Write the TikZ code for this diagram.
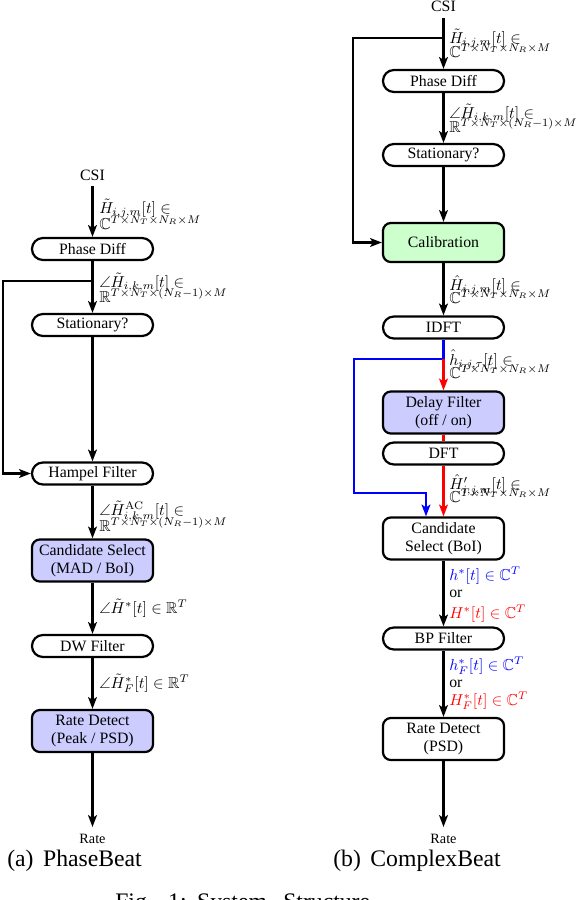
\documentclass[tikz,border=0pt]{standalone}
\usepackage[no-math]{fontspec}
\setmainfont{Liberation Serif}
\usepackage{amssymb}
\usetikzlibrary{arrows.meta}
\definecolor{lav}{RGB}{204,204,255}
\definecolor{mint}{RGB}{204,255,204}
\begin{document}
\begin{tikzpicture}[x=0.6329pt,y=-0.6329pt,
  box/.style={draw,line width=1.4pt,minimum width=76.6pt,inner sep=0pt,
    font=\fontsize{10}{11.2}\selectfont,align=center},
  pill/.style={box,minimum height=13.9pt,rounded corners=6.9pt},
  tall/.style={box,minimum height=26.6pt,rounded corners=5pt},
  arr/.style={line width=1.4pt,-{Stealth[length=7.5pt,width=5.6pt,inset=1.8pt]}},
  ln/.style={line width=1.4pt},
  lbl/.style={anchor=base west,inner sep=0pt,font=\fontsize{10}{12}\selectfont},
  io/.style={anchor=base,inner sep=0pt,font=\fontsize{10}{12}\selectfont},
  outl/.style={anchor=base,inner sep=0pt,font=\fontsize{9}{11}\selectfont},
  capt/.style={anchor=base west,inner sep=0pt,font=\fontsize{15}{18}\selectfont}]
\useasboundingbox (0,0) rectangle (578,900);

% ---------------- left: PhaseBeat ----------------
\node[io] (csiL) at (92.5,180) {CSI};
\node[pill] (pdL) at (92.5,249) {Phase Diff};
\node[pill] (stL) at (92.5,325) {Stationary?};
\node[pill] (hfL) at (92.5,473.5) {Hampel Filter};
\node[tall,fill=lav] (csL) at (92.5,560.5) {Candidate Select\\(MAD / BoI)};
\node[pill] (dwL) at (92.5,646) {DW Filter};
\node[tall,fill=lav] (rdL) at (92.5,731) {Rate Detect\\(Peak / PSD)};
\node[outl] (rateL) at (92.5,843) {Rate};

\coordinate (brL) at (92.5,281);
\coordinate (lpL) at (3,281);
\coordinate (endL) at (92.5,827);
\draw[arr] ([yshift=-3.2pt]csiL.south) -- (pdL.north);
\draw[arr] (pdL) -- (stL);
\draw[arr] (brL) -- (lpL) |- (hfL.west);
\draw[arr] (stL) -- (hfL);
\draw[arr] (hfL) -- (csL);
\draw[arr] (csL) -- (dwL);
\draw[arr] (dwL) -- (rdL);
\draw[arr] (rdL.south) -- (endL);

\node[lbl] (l1a) at (99,213) {$\tilde{H}_{i,j,m}[t] \in$};
\node[lbl] (l1b) at (99,229) {$\mathbb{C}^{T\times N_T\times N_R\times M}$};
\node[lbl] (l2a) at (99,287) {$\angle\tilde{H}_{i,k,m}[t] \in$};
\node[lbl] (l2b) at (99,302) {$\mathbb{R}^{T\times N_T\times (N_R-1)\times M}$};
\node[lbl] (l3a) at (99,515) {$\angle\tilde{H}^{\mathrm{AC}}_{i,k,m}[t] \in$};
\node[lbl] (l3b) at (99,531) {$\mathbb{R}^{T\times N_T\times (N_R-1)\times M}$};
\node[lbl] (l4) at (99,613) {$\angle\tilde{H}^{*}[t] \in \mathbb{R}^{T}$};
\node[lbl] (l5) at (99,688) {$\angle\tilde{H}^{*}_{F}[t] \in \mathbb{R}^{T}$};

% ---------------- right: ComplexBeat ----------------
\node[io] (csiR) at (443.5,11) {CSI};
\node[pill] (pdR) at (443.5,81) {Phase Diff};
\node[pill] (stR) at (443.5,155) {Stationary?};
\node[box,minimum height=24.7pt,rounded corners=5pt,fill=mint] (calR) at (443.5,242.5) {Calibration};
\node[pill] (idftR) at (443.5,327.5) {IDFT};
\node[tall,fill=lav] (dfR) at (443.5,412.5) {Delay Filter\\(off / on)};
\node[pill] (dftR) at (443.5,453.5) {DFT};
\node[tall] (csR) at (443.5,538.5) {Candidate\\Select (BoI)};
\node[pill] (bpR) at (443.5,638.5) {BP Filter};
\node[tall] (rdR) at (443.5,739) {Rate Detect\\(PSD)};
\node[outl] (rateR) at (443.5,843) {Rate};

\coordinate (brR) at (443.5,38);
\coordinate (lpR) at (353,38);
\coordinate (endR) at (443.5,827);
\draw[arr] ([yshift=-4pt]csiR.south) -- (pdR.north);
\draw[arr] (brR) -- (lpR) |- (calR.west);
\draw[arr] (pdR) -- (stR);
\draw[arr] (stR) -- (calR);
\draw[arr] (calR) -- (idftR);

\coordinate (brB) at (443.5,359);
\coordinate (bl1) at (354,359);
\coordinate (bl2) at (426,493);
\draw[ln,blue] (idftR.south) -- (brB);
\draw[arr,blue] (brB) -- (bl1) |- (bl2) -- (bl2 |- csR.north);
\draw[arr,red] (brB) -- (dfR.north);
\draw[ln,red] (dfR) -- (dftR);
\draw[arr,red] (dftR) -- (csR.north);
\draw[arr] (csR) -- (bpR);
\draw[arr] (bpR) -- (rdR);
\draw[arr] (rdR.south) -- (endR);

\node[lbl] (r1a) at (449,43) {$\tilde{H}_{i,j,m}[t] \in$};
\node[lbl] (r1b) at (449,57) {$\mathbb{C}^{T\times N_T\times N_R\times M}$};
\node[lbl] (r2a) at (449,118) {$\angle\tilde{H}_{i,k,m}[t] \in$};
\node[lbl] (r2b) at (449,132) {$\mathbb{R}^{T\times N_T\times (N_R-1)\times M}$};
\node[lbl] (r3a) at (449,290) {$\hat{H}_{i,j,m}[t] \in$};
\node[lbl] (r3b) at (449,303) {$\mathbb{C}^{T\times N_T\times N_R\times M}$};
\node[lbl] (r4a) at (449,365) {$\hat{h}_{i,j,\tau}[t] \in$};
\node[lbl] (r4b) at (449,378) {$\mathbb{C}^{T\times N_T\times N_R\times M}$};
\node[lbl] (r5a) at (449,489) {${\hat{H}'}_{i,j,m}[t] \in$};
\node[lbl] (r5b) at (449,502) {$\mathbb{C}^{T\times N_T\times N_R\times M}$};
\node[lbl,text=blue] (r6a) at (449,580) {$h^{*}[t] \in \mathbb{C}^{T}$};
\node[lbl] (r6b) at (449,597) {or};
\node[lbl,text=red] (r6c) at (449,618) {$H^{*}[t] \in \mathbb{C}^{T}$};
\node[lbl,text=blue] (r7a) at (449,670) {$h^{*}_{F}[t] \in \mathbb{C}^{T}$};
\node[lbl] (r7b) at (449,687) {or};
\node[lbl,text=red] (r7c) at (449,705) {$H^{*}_{F}[t] \in \mathbb{C}^{T}$};

% ---------------- captions ----------------
\node[capt] (capA) at (7,866.5) {(a)\hspace{0.4em}PhaseBeat};
\node[capt] (capB) at (333,866.5) {(b)\hspace{0.4em}ComplexBeat};
\node[capt] (capF) at (115,909) {Fig.\hspace{9.7pt}1:\hspace{6.7pt}System\hspace{10.3pt}Structure};
\end{tikzpicture}
\end{document}
